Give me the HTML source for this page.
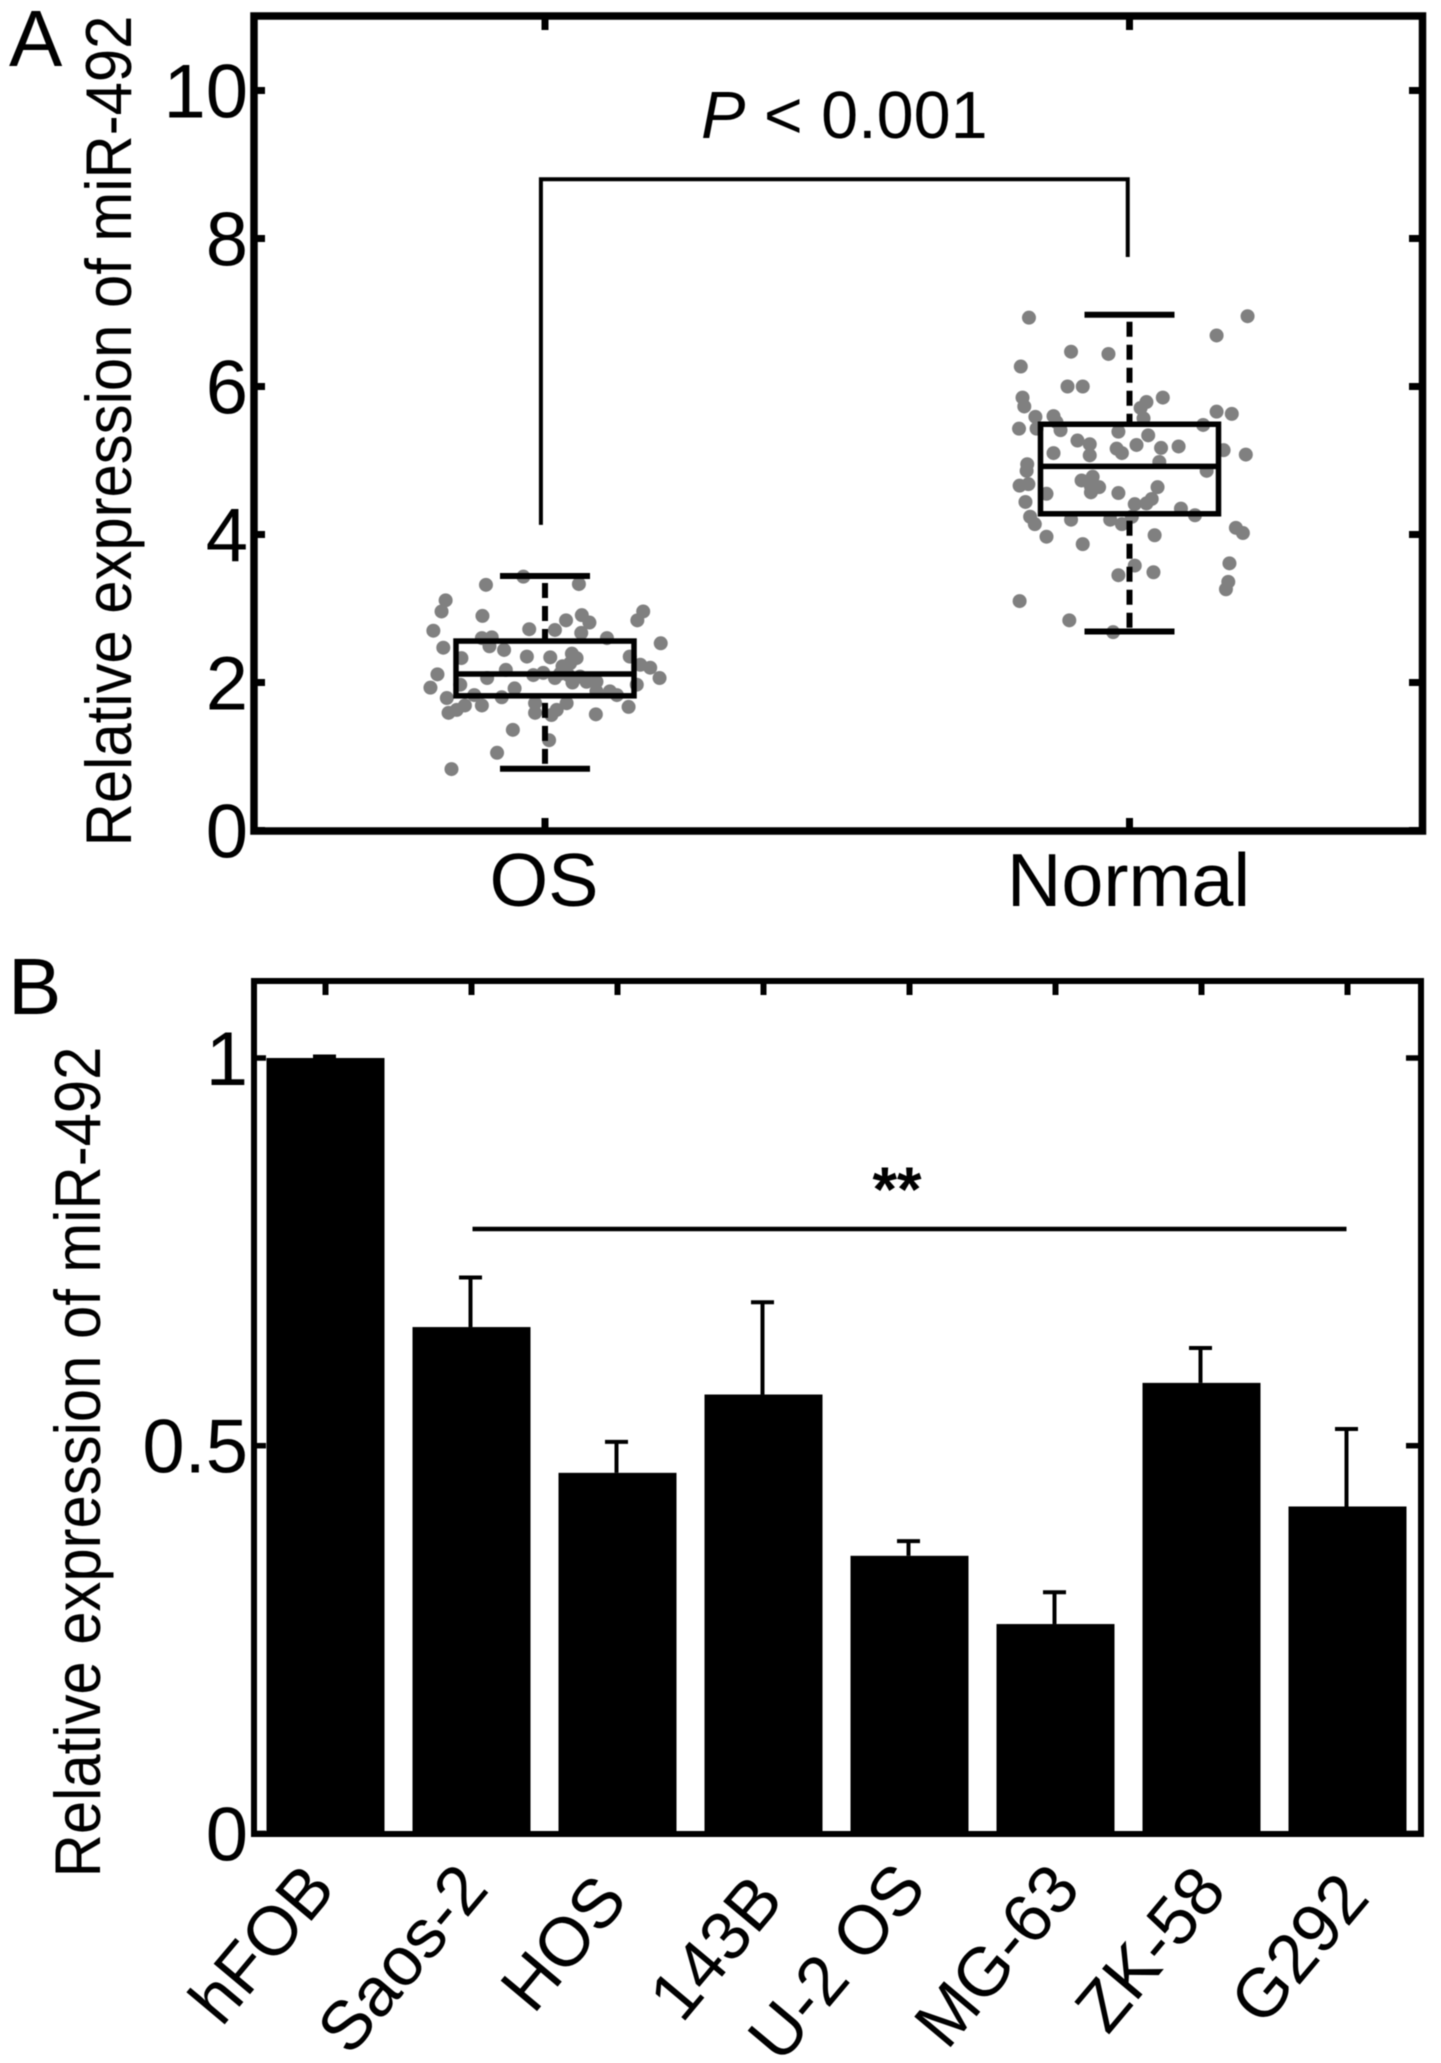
<!DOCTYPE html>
<html lang="en">
<head>
<meta charset="utf-8">
<title>Relative expression of miR-492</title>
<style>
html,body{margin:0;padding:0;background:#fff;width:1441px;height:2063px;overflow:hidden}
svg{display:block;filter:blur(.6px)}
text{font-family:"Liberation Sans",sans-serif;fill:#000}
</style>
</head>
<body>
<svg id="figure" xmlns="http://www.w3.org/2000/svg" width="1441" height="2063" viewBox="0 0 1441 2063">
  <rect x="0" y="0" width="1441" height="2063" fill="#fff"/>
  <g id="panelA">
    <text x="9" y="66" font-size="80">A</text>
    <text transform="translate(131,431) rotate(-90) scale(1,1.09)" text-anchor="middle" font-size="59.8">Relative expression of miR-492</text>
    <text x="701" y="138" font-size="66.5"><tspan font-style="italic">P</tspan> &lt; 0.001</text>
  </g>
  <g id="panelB">
    <text x="8" y="1014" font-size="80">B</text>
    <text transform="translate(100,1462) rotate(-90) scale(1,1.09)" text-anchor="middle" font-size="59.8">Relative expression of miR-492</text>
    <text x="897" y="1211" text-anchor="middle" font-size="63" font-weight="bold">**</text>
  </g>
</svg>
<script>
// Panel A data
const aCategories = ['OS', 'Normal'];
const aTickValues = [0, 2, 4, 6, 8, 10];
const aTickLabels = ['0', '2', '4', '6', '8', '10'];
// low whisker, q1, median, q3, high whisker
const osBox = [0.835, 1.82, 2.115, 2.56, 3.44];
const normalBox = [2.69, 4.28, 4.92, 5.49, 6.97];
const osJitter = [-.037,-.101,.058,-.170,-.177,-.107,.063,.076,.036,.168,.158,-.191,-.027,.017,.062,-.108,-.091,.106,-.174,-.095,-.070,.198,-.031,.009,.046,.054,-.143,.145,.030,.043,.163,.180,-.184,-.067,-.003,-.099,.017,.047,.071,.088,.196,-.145,-.196,-.121,-.052,.157,.111,.123,-.168,-.074,-.017,.037,.143,-.137,-.108,-.151,-.165,-.017,.020,.011,.087,-.055,.007,-.082,-.160,.088,.026,.040,.060,-.020];
const osValues = [3.43,3.32,3.33,3.11,2.96,2.90,2.91,2.81,2.84,2.96,2.84,2.70,2.72,2.71,2.67,2.60,2.61,2.60,2.47,2.49,2.44,2.53,2.35,2.34,2.39,2.33,2.33,2.35,2.22,2.26,2.24,2.20,2.11,2.17,2.13,2.06,2.06,2.00,2.01,2.01,2.06,1.97,1.93,1.83,1.92,1.97,1.88,1.83,1.79,1.80,1.72,1.72,1.67,1.69,1.69,1.63,1.59,1.59,1.63,1.56,1.57,1.36,1.22,1.05,.83,1.88,2.12,2.10,2.08,2.10];
const normalJitter = [-.172,.202,.149,-.100,-.036,-.186,-.106,-.080,.057,.029,.019,-.183,-.180,.149,.175,-.161,-.130,.024,.126,-.159,-.189,-.125,-.118,-.019,.032,-.089,-.068,.012,.084,-.022,.054,-.013,-.068,-.130,.161,.199,.051,-.175,-.176,.132,-.082,-.063,-.188,-.173,-.052,-.066,-.066,.048,-.142,-.019,.038,.029,.009,-.178,.088,-.170,.112,-.162,-.100,-.033,-.013,.004,.182,.194,-.142,.043,-.080,.171,.009,.041,-.019,.169,.165,-.188,-.103,-.028];
const normalValues = [6.93,6.95,6.69,6.47,6.44,6.27,6.00,6.00,5.85,5.79,5.71,5.85,5.73,5.66,5.63,5.59,5.60,5.57,5.48,5.43,5.43,5.52,5.41,5.39,5.34,5.27,5.22,5.21,5.19,5.16,5.17,5.10,5.07,5.10,5.14,5.08,4.98,4.95,4.86,4.86,4.73,4.78,4.66,4.68,4.64,4.65,4.57,4.64,4.55,4.56,4.48,4.42,4.41,4.44,4.35,4.24,4.26,4.14,4.20,4.20,4.14,4.24,4.09,4.02,3.97,3.99,3.87,3.61,3.58,3.49,3.45,3.36,3.26,3.10,2.84,2.68];

// Panel B data
const bCategories = ['hFOB', 'Saos-2', 'HOS', '143B', 'U-2 OS', 'MG-63', 'ZK-58', 'G292'];
const bValues = [1.0, 0.653, 0.465, 0.566, 0.358, 0.27, 0.581, 0.4216];
const bErrorTops = [1.002, 0.717, 0.505, 0.685, 0.377, 0.311, 0.626, 0.5215];
const bTickValues = [0, 0.5, 1];
const bTickLabels = ['0', '0.5', '1'];

// Axis functions
const xA = c => 545 + 584.5 * (c - 1);
const yA = v => 830.5 - 74 * v;
const xB = i => 325.5 + 146 * i;
const yB = v => 1833.4 - 775.4 * v;

const NS = 'http://www.w3.org/2000/svg';
const panelA = document.getElementById('panelA');
const panelB = document.getElementById('panelB');

function make(tag, parent, attrs) {
  const el = document.createElementNS(NS, tag);
  for (const k in attrs) el.setAttribute(k, attrs[k]);
  parent.appendChild(el);
  return el;
}
function line(parent, x1, y1, x2, y2, w, extra) {
  return make('line', parent, Object.assign({x1: x1, y1: y1, x2: x2, y2: y2, stroke: '#000', 'stroke-width': w}, extra || {}));
}

// ---------- Panel A ----------
const frameA = make('rect', panelA, {x: 254, y: 16, width: 1168.5, height: 815, fill: 'none', stroke: '#000', 'stroke-width': 7.5});



aTickValues.forEach((v, i) => {
  const left = line(panelA, 254, yA(v), 265, yA(v), 7);
  
  
  const right = line(panelA, 1422.5, yA(v), 1409, yA(v), 7);
  
  
  const label = make('text', panelA, {x: 248, y: yA(v) + 27, 'text-anchor': 'end', 'font-size': 76});
  label.textContent = aTickLabels[i];
  
  
});

aCategories.forEach((name, i) => {
  const x = xA(i + 1);
  const top = line(panelA, x, 16, x, 30, 7);
  
  
  const bottom = line(panelA, x, 831, x, 818, 7);
  
  
  const label = make('text', panelA, {x: x - 1, y: 906, 'text-anchor': 'middle', 'font-size': 75.5});
  label.textContent = name;
  
  
});

// significance bracket
const bracketPath = 'M' + xA(0.993) + ' ' + yA(4.13) + ' V' + yA(8.8) + ' H' + xA(1.997) + ' V' + yA(7.75);
const bracket = make('path', panelA, {d: bracketPath, fill: 'none', stroke: '#000', 'stroke-width': 4});



function drawPoints(center, jitter, values, name) {
  values.forEach((v, i) => {
    const dot = make('circle', panelA, {cx: xA(center + jitter[i]), cy: yA(v), r: 7, fill: '#808080'});
    
    
  });
}
drawPoints(1, osJitter, osValues, 'os-sample-point');
drawPoints(2, normalJitter, normalValues, 'normal-sample-point');

function drawBox(center, stats, name) {
  const x = xA(center);
  const [low, q1, med, q3, high] = stats;
  const wUp = line(panelA, x, yA(high), x, yA(q3), 6, {'stroke-dasharray': '15 8', 'stroke-dashoffset': '-7'});
  
  
  const wDown = line(panelA, x, yA(q1), x, yA(low), 6, {'stroke-dasharray': '15 8', 'stroke-dashoffset': '-7'});
  
  
  const capUp = line(panelA, x - 45, yA(high), x + 45, yA(high), 6);
  
  
  const capDown = line(panelA, x - 45, yA(low), x + 45, yA(low), 6);
  
  
  const box = make('rect', panelA, {x: x - 89, y: yA(q3), width: 178, height: yA(q1) - yA(q3), fill: 'none', stroke: '#000', 'stroke-width': 5.5});
  
  
  const median = line(panelA, x - 89, yA(med), x + 89, yA(med), 5.5);
  
  
}
drawBox(1, osBox, 'os');
drawBox(2, normalBox, 'normal');

// ---------- Panel B ----------
const barWidth = 118;
function labelNudgeX(i) { return [4, 11, 4, 14, 11, 19, 19, 16][i]; }
function labelNudgeY(i) { return [-3, -3, 8, 8, -4, -3, -1, 6][i]; }
bCategories.forEach((name, i) => {
  const x = xB(i);
  const err = line(panelB, x - 1, yB(bValues[i]), x - 1, yB(bErrorTops[i]), 4);
  
  
  const cap = line(panelB, x - 12.5, yB(bErrorTops[i]), x + 10.5, yB(bErrorTops[i]), 4);
  
  
  const bar = make('rect', panelB, {x: x - barWidth / 2, y: yB(bValues[i]), width: barWidth, height: yB(0) - yB(bValues[i]), fill: '#000'});
  
  
  const tick = line(panelB, x, 981, x, 995, 6);
  
  
  const label = make('text', panelB, {transform: 'translate(' + (x + 8 + labelNudgeX(i)) + ',' + (1893 + labelNudgeY(i)) + ') rotate(-50)', 'text-anchor': 'end', 'font-size': 69});
  label.textContent = name;
  
  
});

const frameB = make('rect', panelB, {x: 254, y: 981, width: 1167, height: 853, fill: 'none', stroke: '#000', 'stroke-width': 6});



bTickValues.forEach((v, i) => {
  const left = line(panelB, 254, yB(v), 266, yB(v), 5.5);
  
  
  const right = line(panelB, 1421, yB(v), 1406, yB(v), 5.5);
  
  
  const label = make('text', panelB, {x: 248, y: yB(v) + 27, 'text-anchor': 'end', 'font-size': 76});
  label.textContent = bTickLabels[i];
  
  
});

const sigLine = line(panelB, xB(1) + 1, 1229, xB(7) - 1, 1229, 4.5);


</script>
</body>
</html>
